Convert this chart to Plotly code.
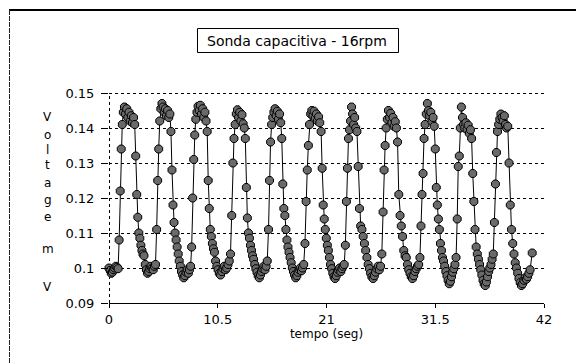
import plotly.graph_objects as go

# Sampled capacitive probe signal (time in s, voltage in V)
tempo = [
    0.00, 0.11, 0.22, 0.33, 0.44, 0.55, 0.66, 0.77, 0.88,
    0.98, 1.08, 1.18, 1.28,
    1.38, 1.49, 1.60, 1.71, 1.82, 1.93, 2.04, 2.15, 2.26, 2.37, 2.48,
    2.58, 2.68, 2.78, 2.88, 2.98, 3.08, 3.18, 3.28, 3.38,
    3.50, 3.61, 3.72, 3.83, 3.94, 4.05, 4.16, 4.27, 4.38, 4.49,
    4.60, 4.70, 4.80, 4.90,
    5.00, 5.11, 5.22, 5.33, 5.44, 5.55, 5.66, 5.77, 5.88,
    5.98, 6.08, 6.18, 6.28, 6.38, 6.48, 6.58, 6.68, 6.78,
    6.89, 7.00, 7.11, 7.22, 7.33, 7.44, 7.55, 7.66, 7.77, 7.88,
    7.98, 8.08, 8.18, 8.28,
    8.38, 8.49, 8.60, 8.71, 8.82, 8.93, 9.04, 9.15, 9.26, 9.37,
    9.48, 9.58, 9.68, 9.78, 9.88, 9.98, 10.08, 10.18,
    10.29, 10.41, 10.53, 10.65, 10.77, 10.89, 11.01, 11.13, 11.25, 11.37, 11.49, 11.61, 11.73,
    11.85, 11.96, 12.07, 12.18,
    12.29, 12.40, 12.51, 12.62, 12.73, 12.84, 12.95, 13.06,
    13.16, 13.26, 13.36, 13.46, 13.56, 13.66, 13.76, 13.86, 13.96,
    14.07, 14.18, 14.29, 14.40, 14.51, 14.62, 14.73, 14.84, 14.95, 15.06, 15.17, 15.28,
    15.40, 15.50, 15.60, 15.70,
    15.81, 15.92, 16.03, 16.14, 16.25, 16.36, 16.47, 16.58,
    16.68, 16.78, 16.88, 16.98, 17.08, 17.18, 17.28, 17.38, 17.48,
    17.59, 17.70, 17.81, 17.92, 18.03, 18.14, 18.25, 18.36, 18.47, 18.58, 18.69, 18.80,
    18.92, 19.03, 19.14, 19.25, 19.36,
    19.47, 19.58, 19.69, 19.80, 19.91, 20.02, 20.13, 20.24, 20.35,
    20.48, 20.58, 20.68, 20.78, 20.88, 20.98, 21.08, 21.18, 21.28,
    21.39, 21.50, 21.61, 21.72, 21.83, 21.94, 22.05, 22.16, 22.27, 22.38, 22.49, 22.60, 22.71,
    22.82, 22.92, 23.02, 23.12,
    23.22, 23.32, 23.42, 23.52, 23.62, 23.72, 23.82,
    23.94, 24.06, 24.18, 24.30, 24.42, 24.54, 24.66, 24.78, 24.90,
    25.02, 25.14, 25.26, 25.38, 25.50, 25.62, 25.74, 25.86, 25.98, 26.10, 26.22, 26.34,
    26.46, 26.56, 26.66, 26.76,
    26.87, 26.98, 27.09, 27.20, 27.31, 27.42, 27.53, 27.64, 27.75,
    27.86, 27.98, 28.10, 28.22, 28.34, 28.46, 28.58, 28.70,
    28.82, 28.94, 29.06, 29.18, 29.30, 29.42, 29.54, 29.66, 29.78, 29.90, 30.02,
    30.12, 30.22, 30.32, 30.42,
    30.52, 30.63, 30.74, 30.85, 30.96, 31.07, 31.18, 31.29, 31.40,
    31.50, 31.60, 31.70, 31.80, 31.90, 32.00, 32.10, 32.20, 32.30,
    32.41, 32.52, 32.63, 32.74, 32.85, 32.96, 33.07, 33.18, 33.29, 33.40, 33.51,
    33.62, 33.72, 33.82, 33.92,
    34.02, 34.13, 34.24, 34.35, 34.46, 34.57, 34.68, 34.79, 34.90,
    35.01, 35.12, 35.23, 35.34, 35.45, 35.56, 35.67,
    35.78, 35.89, 36.00, 36.11, 36.22, 36.33, 36.44, 36.55, 36.66, 36.77, 36.88, 36.99, 37.10,
    37.21, 37.31, 37.41, 37.51,
    37.62, 37.73, 37.84, 37.95, 38.06, 38.17, 38.28, 38.39, 38.50,
    38.62, 38.74, 38.86, 38.98, 39.10, 39.22,
    39.34, 39.46, 39.58, 39.70, 39.82, 39.94, 40.06, 40.18, 40.30, 40.42, 40.54, 40.66,
    40.86,
]

voltagem = [
    0.1000, 0.0993, 0.0985, 0.0988, 0.0995, 0.1000, 0.1005, 0.1002, 0.0998,
    0.1080, 0.1220, 0.1340, 0.1410,
    0.1445, 0.1460, 0.1440, 0.1455, 0.1430, 0.1445, 0.1420, 0.1435, 0.1415, 0.1430, 0.1410,
    0.1320, 0.1210, 0.1145, 0.1100, 0.1085, 0.1065, 0.1050, 0.1040, 0.1035,
    0.1010, 0.0995, 0.0985, 0.0990, 0.0998, 0.1005, 0.1000, 0.0995, 0.1005, 0.1010,
    0.1110, 0.1250, 0.1340, 0.1420,
    0.1455, 0.1470, 0.1460, 0.1445, 0.1455, 0.1435, 0.1450, 0.1430, 0.1440,
    0.1390, 0.1280, 0.1180, 0.1130, 0.1100, 0.1080, 0.1060, 0.1040, 0.1020,
    0.1005, 0.0990, 0.0980, 0.0972, 0.0978, 0.0988, 0.0995, 0.0985, 0.0995, 0.1005,
    0.1060, 0.1200, 0.1310, 0.1380,
    0.1425, 0.1445, 0.1462, 0.1450, 0.1465, 0.1440, 0.1455, 0.1430, 0.1445, 0.1420,
    0.1390, 0.1250, 0.1170, 0.1110, 0.1090, 0.1070, 0.1055, 0.1045,
    0.1020, 0.1005, 0.0995, 0.0985, 0.0980, 0.0990, 0.0998, 0.1005, 0.0995, 0.1000, 0.1010, 0.1020, 0.1040,
    0.1150, 0.1300, 0.1370, 0.1410,
    0.1440, 0.1452, 0.1430, 0.1445, 0.1420, 0.1438, 0.1412, 0.1400,
    0.1370, 0.1230, 0.1143, 0.1100, 0.1085, 0.1065, 0.1050, 0.1035, 0.1025,
    0.1010, 0.0998, 0.0988, 0.0978, 0.0972, 0.0980, 0.0990, 0.0998, 0.1005, 0.0995, 0.1005, 0.1020,
    0.1110, 0.1250, 0.1360, 0.1410,
    0.1430, 0.1445, 0.1455, 0.1435, 0.1448, 0.1425, 0.1440, 0.1415,
    0.1370, 0.1240, 0.1170, 0.1150, 0.1110, 0.1080, 0.1060, 0.1045, 0.1030,
    0.1015, 0.1000, 0.0990, 0.0980, 0.0972, 0.0978, 0.0988, 0.0995, 0.1000, 0.0992, 0.1000, 0.1010,
    0.1070, 0.1190, 0.1280, 0.1350, 0.1410,
    0.1440, 0.1450, 0.1435, 0.1448, 0.1428, 0.1440, 0.1420, 0.1432, 0.1415,
    0.1390, 0.1285, 0.1180, 0.1140, 0.1110, 0.1085, 0.1065, 0.1050, 0.1030,
    0.1010, 0.0998, 0.0985, 0.0975, 0.0970, 0.0978, 0.0988, 0.0995, 0.1000, 0.0990, 0.0998, 0.1005, 0.1010,
    0.1065, 0.1190, 0.1285, 0.1370,
    0.1395, 0.1420, 0.1460, 0.1440, 0.1410, 0.1430, 0.1400,
    0.1390, 0.1290, 0.1170, 0.1120, 0.1110, 0.1090, 0.1070, 0.1050, 0.1030,
    0.1010, 0.0998, 0.0985, 0.0975, 0.0970, 0.0978, 0.0988, 0.0998, 0.1005, 0.0995, 0.1005, 0.1040,
    0.1160, 0.1280, 0.1350, 0.1400,
    0.1425, 0.1450, 0.1430, 0.1442, 0.1415, 0.1430, 0.1405, 0.1418, 0.1400,
    0.1360, 0.1210, 0.1150, 0.1120, 0.1090, 0.1050, 0.1035, 0.1030,
    0.1010, 0.0995, 0.0985, 0.0975, 0.0970, 0.0978, 0.0990, 0.0998, 0.1005, 0.1010, 0.1030,
    0.1120, 0.1210, 0.1270, 0.1370,
    0.1410, 0.1440, 0.1470, 0.1450, 0.1435, 0.1445, 0.1420, 0.1430, 0.1405,
    0.1340, 0.1230, 0.1180, 0.1140, 0.1110, 0.1070, 0.1050, 0.1030, 0.1020,
    0.1005, 0.0990, 0.0978, 0.0965, 0.0955, 0.0962, 0.0975, 0.0988, 0.0998, 0.1010, 0.1030,
    0.1140, 0.1290, 0.1320, 0.1400,
    0.1460, 0.1430, 0.1410, 0.1400, 0.1415, 0.1395, 0.1408, 0.1385, 0.1395,
    0.1370, 0.1270, 0.1190, 0.1110, 0.1060, 0.1040, 0.1025,
    0.1010, 0.0995, 0.0980, 0.0965, 0.0955, 0.0950, 0.0960, 0.0975, 0.0990, 0.1000, 0.1010, 0.1025, 0.1040,
    0.1130, 0.1240, 0.1330, 0.1390,
    0.1410, 0.1425, 0.1440, 0.1430, 0.1420, 0.1435, 0.1410, 0.1400, 0.1405,
    0.1300, 0.1180, 0.1110, 0.1070, 0.1040, 0.1015,
    0.1000, 0.0985, 0.0970, 0.0958, 0.0950, 0.0955, 0.0965, 0.0972, 0.0968, 0.0975, 0.0985, 0.0995,
    0.1043,
]

assert len(tempo) == len(voltagem)

x_ticks = [0, 10.5, 21, 31.5, 42]
x_tick_labels = ["0", "10.5", "21", "31.5", "42"]
y_ticks = [0.09, 0.10, 0.11, 0.12, 0.13, 0.14, 0.15]
y_tick_labels = ["0.09", "0.1", "0.11", "0.12", "0.13", "0.14", "0.15"]

titulo = "Sonda capacitiva - 16rpm"
titulo_x = "tempo (seg)"
titulo_y_letras = ["V", "o", "l", "t", "a", "g", "e", "m", "V"]

FONT = "DejaVu Sans"
W, H = 576, 363
ML, MR, MT, MB = 109, 32, 93, 60
PW, PH = W - ML - MR, H - MT - MB
X_RANGE = [0, 42]
Y_RANGE = [0.09, 0.15]
HALF_PX_X = 0.5 * (X_RANGE[1] - X_RANGE[0]) / PW
HALF_PX_Y = 0.5 * (Y_RANGE[1] - Y_RANGE[0]) / PH


def px_to_paper_x(px):
    return (px - ML) / PW


def px_to_paper_y(py):
    return (H - MB - py) / PH


fig = go.Figure()

fig.add_trace(go.Scatter(
    x=tempo, y=voltagem,
    mode="lines+markers",
    line=dict(color="black", width=1),
    marker=dict(symbol="octagon", size=8.5, color="#6a6a6a",
                line=dict(color="black", width=1)),
    showlegend=False,
    cliponaxis=False,
))

# dotted vertical axis at t = 0 and dotted top grid line (nudged onto whole pixels)
fig.add_shape(type="line", xref="x", yref="y",
              x0=X_RANGE[0] + HALF_PX_X, x1=X_RANGE[0] + HALF_PX_X,
              y0=Y_RANGE[0], y1=Y_RANGE[1],
              line=dict(color="black", width=1, dash="dot"), layer="below")
fig.add_shape(type="line", xref="x", yref="y",
              x0=X_RANGE[0], x1=X_RANGE[1],
              y0=Y_RANGE[1] - HALF_PX_Y, y1=Y_RANGE[1] - HALF_PX_Y,
              line=dict(color="black", width=1, dash="dot"), layer="below")

# outer frame (top and left edges)
fig.add_shape(type="line", xref="paper", yref="paper",
              x0=px_to_paper_x(9), x1=px_to_paper_x(580),
              y0=px_to_paper_y(10), y1=px_to_paper_y(10),
              line=dict(color="black", width=2))
fig.add_shape(type="line", xref="paper", yref="paper",
              x0=px_to_paper_x(9.5), x1=px_to_paper_x(9.5),
              y0=px_to_paper_y(10), y1=px_to_paper_y(370),
              line=dict(color="#222", width=1, dash="5px,1px"))

# boxed title
fig.add_shape(type="rect", xref="paper", yref="paper",
              x0=px_to_paper_x(197.5), x1=px_to_paper_x(398.5),
              y0=px_to_paper_y(28.5), y1=px_to_paper_y(52.5),
              line=dict(color="black", width=1), fillcolor="white")
fig.add_annotation(
    text=titulo, xref="paper", yref="paper",
    x=px_to_paper_x(297), y=px_to_paper_y(40.5),
    xanchor="center", yanchor="middle", showarrow=False,
    font=dict(family=FONT, size=14, color="black"),
)

# stacked vertical y-axis title
letra_y = [117, 135, 150, 165, 183, 200, 217, 249, 287]
for letra, py in zip(titulo_y_letras, letra_y):
    fig.add_annotation(
        text=letra, xref="paper", yref="paper",
        x=px_to_paper_x(48), y=px_to_paper_y(py),
        xanchor="center", yanchor="middle", showarrow=False,
        font=dict(family=FONT, size=12, color="black"),
    )

fig.update_layout(
    width=W, height=H,
    margin=dict(l=ML, r=MR, t=MT, b=MB, pad=0),
    paper_bgcolor="white", plot_bgcolor="white",
    font=dict(family=FONT, size=13, color="black"),
    xaxis=dict(
        range=X_RANGE, tickvals=x_ticks, ticktext=x_tick_labels,
        showgrid=False, zeroline=False,
        showline=True, linecolor="black", linewidth=1,
        ticks="outside", ticklen=4, tickcolor="black", tickwidth=1,
        tickfont=dict(family=FONT, size=13, color="black"),
        title=dict(text=titulo_x, font=dict(family=FONT, size=12, color="black"), standoff=4),
    ),
    yaxis=dict(
        range=Y_RANGE, tickvals=y_ticks, ticktext=y_tick_labels,
        showgrid=True, gridcolor="black", gridwidth=1, griddash="dot",
        zeroline=False, showline=False,
        ticks="outside", ticklen=7, tickcolor="black", tickwidth=1,
        ticklabelstandoff=4,
        tickfont=dict(family=FONT, size=13, color="black"),
    ),
)

fig.write_html("out.html")
